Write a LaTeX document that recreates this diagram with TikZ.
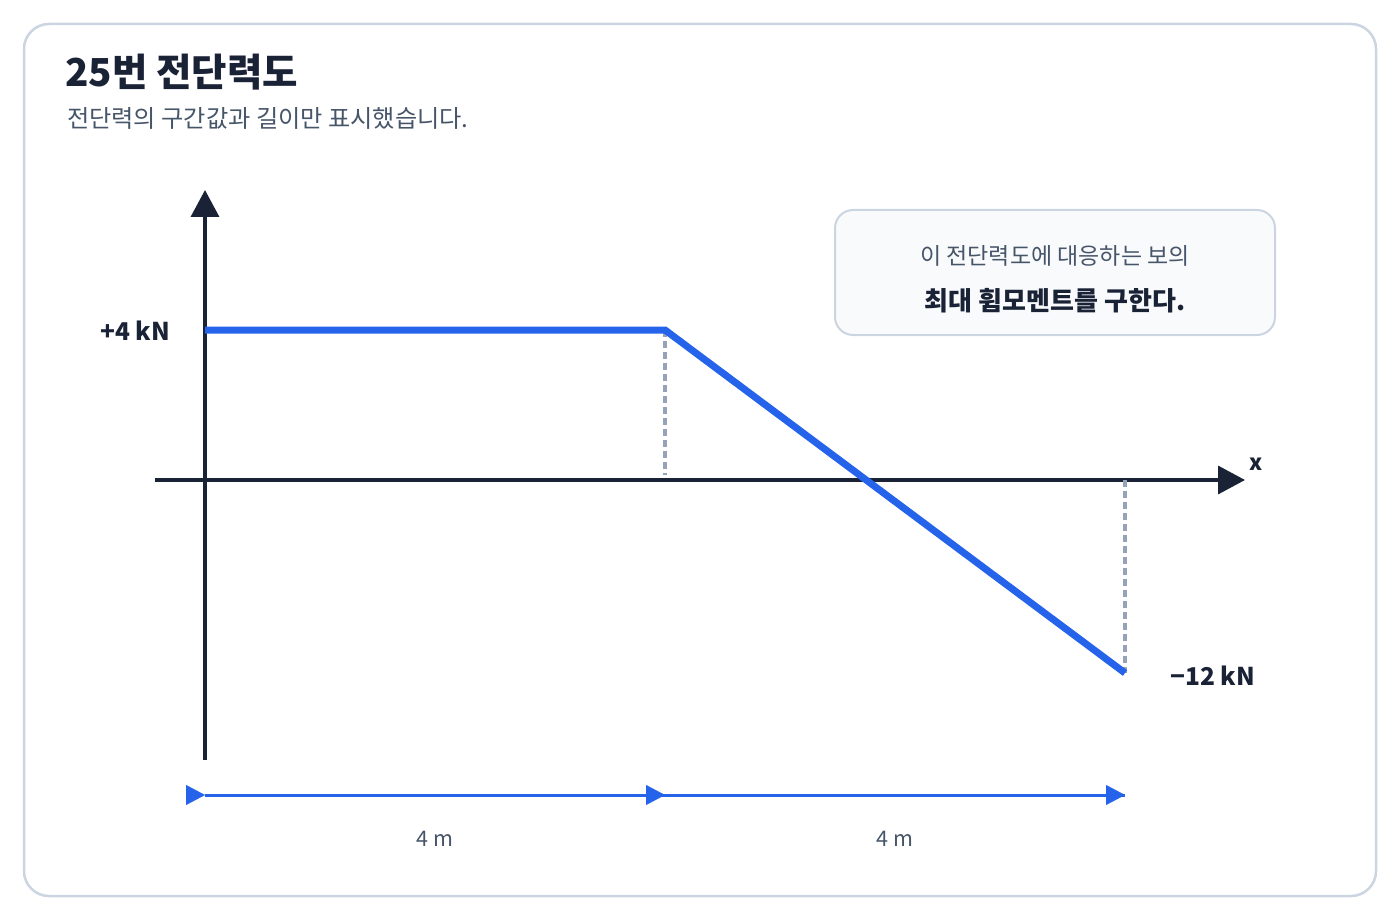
\documentclass[tikz,border=0pt]{standalone}
\usepackage{fontspec}
\setmainfont{Noto Sans CJK KR}
\usepackage{tikz}
\usetikzlibrary{
    positioning,
    arrows.meta,
    calc
}
\definecolor{shearBlue}{RGB}{37, 99, 235}
\definecolor{axisDark}{RGB}{26, 34, 54}
\definecolor{frameGray}{RGB}{203, 213, 225}
\definecolor{textGray}{RGB}{71, 85, 105}
\definecolor{dashGray}{RGB}{148, 163, 184}
\definecolor{boxFill}{RGB}{248, 250, 252}

\begin{document}
\begin{tikzpicture}[x=1pt, y=-1pt,
        axisline/.style={line width=3.5pt, axisDark, -{Triangle[length=27pt, width=28pt]}},
        shearline/.style={line width=7pt, shearBlue, line join=miter},
        guideline/.style={line width=3.5pt, dashGray, dash pattern=on 7pt off 4pt},
        dimline/.style={line width=3pt, shearBlue},
        dimtip/.style={shearBlue, -{Triangle[length=19pt, width=20pt]}, line width=0.1pt},
        valuelabel/.style={font=\bfseries\fontsize{24.5}{28}\selectfont, text=axisDark, inner sep=0pt},
        lengthlabel/.style={font=\fontsize{21.5}{25}\selectfont, text=textGray, inner sep=0pt, anchor=base}
    ]
            \useasboundingbox (0,0) rectangle (1400,920);
            \draw[frameGray, line width=2.5pt, rounded corners=25pt] (24,24) rectangle (1376,896);

            % title
            \node[anchor=base west, inner sep=0pt, text=axisDark,
                font=\bfseries\fontsize{38.5}{42}\selectfont] (title) at (65,87) {25번 전단력도};
            \node[anchor=base west, inner sep=0pt, text=textGray,
                font=\fontsize{24.2}{28}\selectfont] (subtitle) at (67,128) {전단력의 구간값과 길이만 표시했습니다.};

            % axes
            \coordinate (O) at (205,480);
            \coordinate (Ybot) at (205,760);
            \coordinate (Ytop) at (205,190);
            \coordinate (Xleft) at (155,480);
            \coordinate (Xright) at (1245,480);
            \draw[axisline] (Ybot) -- (Ytop);
            \draw[axisline] (Xleft) -- (Xright);
            \node[anchor=base west, inner sep=0pt, text=axisDark,
                font=\bfseries\fontsize{22}{26}\selectfont] (xlab) at (1249,470) {x};

            % shear force diagram
            \coordinate (A) at (205,330);
            \coordinate (B) at (665,330);
            \coordinate (C) at (1125,673);
            \coordinate (Bx) at (665,475);
            \coordinate (Cx) at (1125,480);
            \draw[guideline] (B) -- (Bx);
            \draw[guideline] (Cx) -- (C);
            \draw[shearline] (A) -- (B) -- (C);
            \node[valuelabel, anchor=base east] (vA) at (170,340) {+4 kN};
            \node[valuelabel, anchor=base west] (vC) at (1170,685) {−12 kN};

            % lengths
            \coordinate (D0) at (205,795);
            \coordinate (D1) at (665,795);
            \coordinate (D2) at (1125,795);
            \draw[dimline] (D0) -- (D1);
            \draw[dimline] (D1) -- (D2);
            \foreach \p in {D0, D1, D2} {
                \draw[dimtip] ($(\p)+(-19,0)$) -- (\p);
            }
            \node[lengthlabel] (L1) at (435,846) {4 m};
            \node[lengthlabel] (L2) at (895,846) {4 m};

            % task box
            \draw[frameGray, fill=boxFill, line width=2pt, rounded corners=18pt] (835,210) rectangle (1275,335);
            \node[anchor=base, inner sep=0pt, text=textGray,
                font=\fontsize{23}{27}\selectfont] (task1) at (1055,265) {이 전단력도에 대응하는 보의};
            \node[anchor=base, inner sep=0pt, text=axisDark,
                font=\bfseries\fontsize{26}{30}\selectfont] (task2) at (1055,310) {최대 휨모멘트를 구한다.};
        \end{tikzpicture}
\end{document}
